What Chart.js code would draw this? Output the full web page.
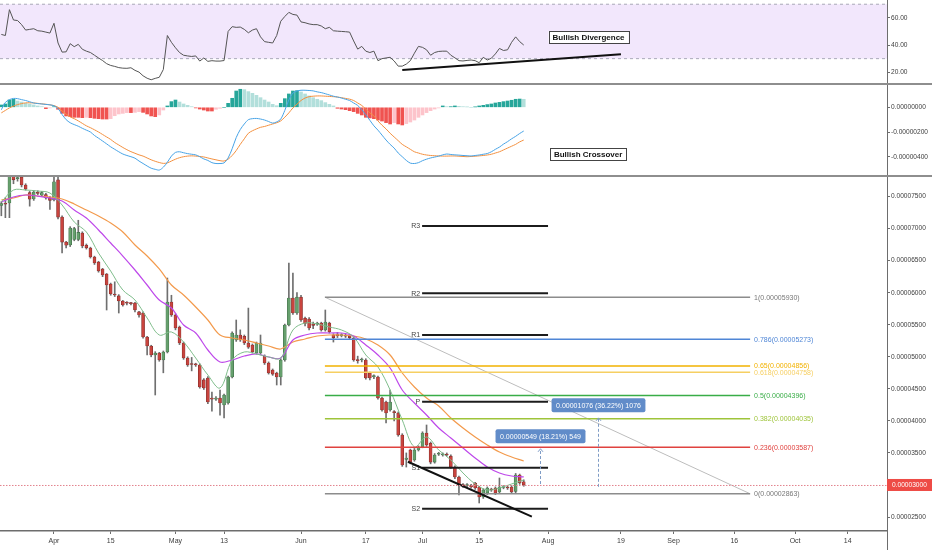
<!DOCTYPE html>
<html>
<head>
<meta charset="utf-8">
<script src="https://cdn.jsdelivr.net/npm/chart.js@4.4.1/dist/chart.umd.min.js"></script>
<style>
  body { margin: 0; background: #fff; width: 932px; height: 550px; overflow: hidden; position: relative; }
  .pane { position: absolute; left: 0; width: 932px; }
  .sep { position: absolute; left: 0; width: 932px; height: 2px; background: #8e8e8e; }
</style>
</head>
<body>
<div class="pane" style="top:0;height:83px"><canvas id="rsiChart"></canvas></div>
<div class="sep" style="top:83px"></div>
<div class="pane" style="top:85px;height:90px"><canvas id="macdChart"></canvas></div>
<div class="sep" style="top:175px"></div>
<div class="pane" style="top:177px;height:373px"><canvas id="priceChart"></canvas></div>
<script>
// Days are counted from 1 Apr; the first candle is 19 Mar
const firstDay = -13;
const viewStartDay = -13.33;
const viewEndDay = 205.7;

const xTickDays = [0, 14, 30, 42, 61, 77, 91, 105, 122, 140, 153, 168, 183, 196];
const xTickLabels = ['Apr', '15', 'May', '13', 'Jun', '17', 'Jul', '15', 'Aug', '19', 'Sep', '16', 'Oct', '14'];

// prices in satoshi (1e-8)
const opens = [7360, 7390, 7400, 7850, 7780, 7800, 7680, 7560, 7462, 7560, 7520, 7530, 7480, 7446, 7760, 7180, 6790, 6744, 6830, 6830,
  6930, 6740, 6697, 6557, 6479, 6370, 6290, 6136, 5970, 5950, 5870, 5840, 5835, 5839, 5700, 5683, 5309, 5168, 5028, 5059,
  4950, 5075, 5855, 5652, 5465, 5215, 4981, 4890, 4880, 4872, 4640, 4669, 4357, 4340, 4357, 4248, 4280, 4685, 5262, 5340,
  5320, 5215, 5184, 5059, 5059, 5010, 4903, 4794, 4747, 4685, 4950, 5496, 5917, 5683, 5930, 5600, 5590, 5510, 5510, 5527,
  5418, 5527, 5340, 5340, 5330, 5330, 5320, 5293, 4950, 4950, 4950, 4747, 4690, 4685, 4357, 4295, 4170, 4140, 4123, 3780,
  3400, 3546, 3390, 3546, 3593, 3811, 3650, 3357, 3480, 3470, 3480, 3450, 3281, 3125, 3000, 2990, 2990, 3031, 2969, 2813,
  2875, 2930, 2953, 2890, 2960, 2960, 2969, 2900, 3156, 3050];
const highs = [7420, 7480, 7950, 7950, 7850, 7850, 7700, 7580, 7590, 7590, 7580, 7550, 7500, 7800, 7820, 7200, 6800, 7030, 7020, 7130,
  6950, 6760, 6710, 6570, 6490, 6380, 6300, 6150, 6170, 5970, 5880, 5860, 5850, 5850, 5710, 5700, 5320, 5180, 5080, 5070,
  5090, 6229, 5960, 5670, 5480, 5230, 5000, 4990, 4900, 4890, 4660, 4690, 4450, 4380, 4480, 4420, 4700, 5390, 5574, 5420,
  5340, 5760, 5200, 5230, 5340, 5030, 4920, 4810, 4760, 4970, 5510, 6463, 6307, 6000, 5960, 5620, 5610, 5540, 5540, 5540,
  5730, 5540, 5360, 5380, 5360, 5350, 5340, 5310, 5010, 4980, 4970, 4760, 4720, 4700, 4370, 4310, 4482, 4160, 4140, 3800,
  3500, 3560, 3570, 3610, 3830, 3936, 3670, 3490, 3510, 3500, 3500, 3470, 3300, 3140, 3020, 3020, 3010, 3040, 2980, 2940,
  2970, 2950, 2970, 3109, 2990, 2980, 2990, 3180, 3170, 3080];
const lows = [7200, 7170, 7170, 7700, 7740, 7650, 7600, 7350, 7440, 7530, 7500, 7460, 7300, 7430, 7150, 6620, 6700, 6720, 6810, 6810,
  6700, 6680, 6540, 6440, 6320, 6250, 5730, 5960, 5940, 5683, 5790, 5810, 5810, 5700, 5620, 5290, 5028, 5000, 4404, 4930,
  4750, 5060, 5630, 5420, 5190, 4960, 4850, 4780, 4850, 4510, 4490, 4270, 4150, 4320, 4090, 4045, 4260, 4670, 5240, 5240,
  5190, 5130, 5060, 5040, 5040, 4880, 4730, 4710, 4560, 4560, 4930, 5480, 5660, 5660, 5550, 5480, 5420, 5440, 5490, 5400,
  5400, 5370, 5230, 5300, 5310, 5300, 5280, 4930, 4900, 4920, 4650, 4640, 4660, 4340, 4150, 3967, 4150, 4000, 3760, 3290,
  3280, 3330, 3370, 3530, 3580, 3600, 3330, 3340, 3460, 3450, 3450, 3260, 3100, 2844, 2960, 2960, 2950, 2930, 2719, 2790,
  2850, 2900, 2850, 2870, 2940, 2930, 2870, 2880, 3010, 2980];
const closes = [7390, 7380, 7850, 7760, 7790, 7680, 7618, 7460, 7571, 7550, 7560, 7480, 7440, 7730, 7180, 6790, 6740, 7009, 7000, 6940,
  6728, 6700, 6557, 6463, 6338, 6276, 6120, 5980, 5964, 5870, 5808, 5835, 5830, 5730, 5652, 5309, 5168, 5028, 5059, 4950,
  5075, 5855, 5652, 5449, 5215, 4981, 4872, 4880, 4875, 4529, 4513, 4295, 4340, 4357, 4279, 4404, 4685, 5371, 5340, 5262,
  5215, 5150, 5075, 5215, 5215, 4903, 4747, 4730, 4685, 4950, 5496, 5917, 5683, 5930, 5574, 5520, 5449, 5490, 5525, 5418,
  5543, 5390, 5300, 5330, 5345, 5320, 5300, 4950, 4940, 4960, 4669, 4669, 4700, 4357, 4170, 4123, 4295, 4130, 3780, 3312,
  3420, 3357, 3546, 3593, 3811, 3624, 3357, 3468, 3490, 3480, 3468, 3281, 3125, 3000, 2990, 3000, 2970, 2953, 2813, 2922,
  2953, 2922, 2875, 2969, 2970, 2953, 2890, 3156, 3031, 3000];

// moving averages, read at every 3rd candle
const maStep = 3;
const maFast = [7415, 7602, 7602, 7586, 7555, 7368, 7103, 6947, 6619, 6338, 6042, 5886, 5605, 5340, 5387, 5231, 4981, 4716, 4513, 4950,
  5075, 5044, 4997, 4981, 5418, 5527, 5512, 5465, 5418, 5309, 5028, 4841, 4482, 4014, 3593, 3749, 3546, 3390, 3187, 3016,
  2922, 2953, 3016, 3078];
const maMid = [7415, 7493, 7524, 7508, 7477, 7430, 7290, 7165, 6978, 6775, 6572, 6354, 6120, 5886, 5761, 5496, 5371, 5106, 4919, 4950,
  5012, 5044, 4997, 4981, 5262, 5340, 5371, 5371, 5371, 5324, 5184, 5028, 4825, 4482, 4279, 4092, 3889, 3733, 3577, 3421,
  3281, 3187, 3140, 3125];
const maSlow = [7446, 7477, 7524, 7508, 7493, 7462, 7384, 7290, 7196, 7087, 6947, 6744, 6572, 6370, 6120, 5964, 5777, 5574, 5340, 5293,
  5262, 5215, 5168, 5122, 5231, 5278, 5324, 5340, 5340, 5324, 5278, 5184, 5028, 4747, 4529, 4357, 4232, 4045, 3889, 3749,
  3624, 3515, 3437, 3374];

const rsiValues = [47.8, 47, 66, 58.4, 58, 55, 51, 51.5, 52, 50.5, 50.2, 49.5, 48.8, 56, 41.5, 34.8, 35, 41, 38.8, 40.5,
  36.9, 35.5, 34.5, 32.5, 30.5, 28.6, 26.3, 25, 24.3, 23.4, 23, 22.9, 23.3, 21.4, 20.1, 17.4, 15.6, 14.5, 15.5, 16.3,
  22, 47, 42, 38, 34.5, 32.5, 32, 31.6, 32, 28.2, 30.5, 28, 28.5, 28.2, 28.2, 28.6, 50, 53.5, 53, 53.2,
  51.5, 49, 51, 52, 46, 42.5, 42, 41.5, 47, 57.5, 61, 64, 62.5, 62, 57, 56.4, 55.5, 55, 55, 54,
  52, 53, 50.5, 50.2, 50, 49.8, 49.5, 43, 37, 39, 35.5, 34.5, 35.5, 28.5, 30, 30.5, 31, 28.3, 24.5, 24.5,
  26, 28.5, 34, 39, 38.3, 36.5, 32.5, 34.5, 35.3, 35.5, 35.5, 32.5, 30.6, 28.5, 28.3, 28.7, 29, 28.5, 27, 31,
  29, 30.3, 33.5, 37.5, 36, 36.5, 42, 46, 42.5, 40];

const macdLine = [-20, 40, 62, 72, 70, 62, 55, 45, 35, 30, 27, 23, 20, 12, -10, -58, -100, -125, -140, -153,
  -170, -185, -200, -228, -250, -273, -296, -320, -340, -360, -378, -390, -400, -412, -435, -455, -475, -493, -502, -508,
  -485, -445, -395, -365, -360, -368, -375, -380, -385, -400, -418, -430, -448, -455, -455, -450, -410, -335, -245, -180,
  -135, -100, -92, -90, -95, -103, -115, -128, -118, -95, -25, 60, 115, 132, 138, 138, 136, 133, 125, 119,
  110, 100, 90, 83, 75, 65, 55, 35, 15, -20, -60, -105, -150, -185, -225, -265, -300, -330, -370, -400,
  -430, -452, -455, -448, -432, -420, -410, -403, -395, -385, -378, -382, -385, -387, -390, -392, -394, -390, -386, -380,
  -374, -360, -340, -322, -298, -278, -255, -235, -212, -192];
const macdSignal = [-45, -25, -5, 10, 22, 30, 36, 37, 35, 32, 28, 25, 20, 14, 0, -30, -55, -78, -92, -110,
  -130, -150, -165, -182, -200, -220, -240, -260, -285, -305, -325, -343, -359, -372, -385, -395, -410, -425, -437, -447,
  -454, -450, -435, -420, -408, -400, -395, -393, -395, -398, -402, -410, -418, -425, -432, -435, -420, -390, -350, -300,
  -255, -210, -190, -175, -162, -155, -145, -135, -125, -110, -80, -45, -5, 25, 55, 75, 86, 90, 92, 92,
  90, 88, 86, 83, 78, 72, 66, 55, 35, 15, -15, -45, -70, -110, -145, -175, -210, -240, -270, -300,
  -320, -340, -360, -370, -380, -386, -390, -392, -394, -395, -395, -394, -394, -396, -398, -400, -398, -396, -393, -390,
  -386, -380, -370, -360, -345, -330, -315, -300, -280, -265];
const macdHist = [19, 27, 59, 65, 51, 43, 32, 27, 19, 11, 5, -11, -5, 5, -16, -49, -70, -76, -81, -81,
  -84, -81, -84, -89, -92, -95, -95, -92, -68, -54, -49, -43, -43, -41, -35, -41, -54, -70, -76, -62,
  -22, 11, 46, 59, 43, 27, 16, 5, -5, -14, -22, -30, -30, -16, -8, 0, 32, 73, 132, 146,
  143, 127, 113, 97, 78, 59, 43, 24, 13, 32, 70, 108, 132, 135, 124, 108, 92, 78, 65, 54,
  38, 24, 11, -8, -14, -19, -27, -35, -49, -62, -81, -86, -92, -103, -111, -124, -135, -124, -135, -143,
  -132, -119, -103, -81, -62, -43, -27, -14, -5, 11, 5, 5, 11, 8, 5, 3, 0, 3, 11, 16,
  22, 27, 35, 40, 46, 51, 57, 65, 67, 65];

const priceTicks = [2500, 3000, 3500, 4000, 4500, 5000, 5500, 6000, 6500, 7000, 7500];
const rsiTicks = [20, 40, 60];
const macdTicks = [0, -200, -400];

// fibonacci retracement
const fibRatios = ['1', '0.786', '0.65', '0.618', '0.5', '0.382', '0.236', '0'];
const fibPrices = [5930, 5273, 4856, 4758, 4396, 4035, 3587, 2863];
const fibColors = ['#8c8c8c', '#4f86d6', '#f2b200', '#f6cf62', '#39ad47', '#9ec43a', '#e0423f', '#8c8c8c'];
const fibStartDay = 66.9, fibEndDay = 171.9;

// pivot points
const pivotNames = ['R3', 'R2', 'R1', 'P', 'S1', 'S2'];
const pivotPrices = [7040, 5990, 5340, 4300, 3270, 2630];
const pivotStartDay = 90.9, pivotEndDay = 122;

// hand-drawn lines: [day, value, day, value]
const supportLine = [87.4, 3363, 118, 2505];
const rsiDivergence = [86, 21.6, 140, 33.2];

// price range measurements
const measureDays = [120, 134.3];
const measureFrom = [3015, 2971];
const measureTo = [3564, 4047];

const days = opens.map((_, i) => firstDay + i);
const FONT = '"Liberation Sans", Arial, sans-serif';
Chart.defaults.font.family = FONT;
Chart.defaults.font.size = 7;
Chart.defaults.animation = false;

function rightAxis(min, max, ticks, fmt) {
  return {
    position: 'right', min: min, max: max,
    afterBuildTicks: s => { s.ticks = ticks.map(v => ({ value: v })); },
    afterFit: s => { s.width = 45; s.paddingTop = 0; s.paddingBottom = 0; },
    border: { display: true, color: '#6d6d6d' },
    grid: { drawOnChartArea: false, offset: false, tickLength: 3, color: '#6d6d6d' },
    ticks: { callback: fmt, padding: 1, color: '#3c3c3c', autoSkip: false, font: { size: 6.6 } }
  };
}
function hiddenX() {
  return { type: 'linear', min: viewStartDay, max: viewEndDay, display: false, offset: false };
}
const baseOptions = {
  responsive: true, maintainAspectRatio: false,
  layout: { padding: 0 },
  plugins: { legend: { display: false }, tooltip: { enabled: false } },
  events: []
};
const sats = v => (v / 1e8).toFixed(8);

function segment(ctx, x1, y1, x2, y2, color, width, dash) {
  ctx.beginPath();
  ctx.setLineDash(dash || []);
  ctx.strokeStyle = color;
  ctx.lineWidth = width;
  ctx.moveTo(x1, y1);
  ctx.lineTo(x2, y2);
  ctx.stroke();
  ctx.setLineDash([]);
}
function noteBox(ctx, text, cx, cy) {
  ctx.font = 'bold 8px ' + FONT;
  const w = ctx.measureText(text).width + 8, h = 12;
  ctx.fillStyle = '#fff';
  ctx.fillRect(cx - w / 2, cy - h / 2, w, h);
  ctx.strokeStyle = '#444';
  ctx.lineWidth = 1;
  ctx.strokeRect(Math.round(cx - w / 2) + 0.5, Math.round(cy - h / 2) + 0.5, Math.round(w), h);
  ctx.fillStyle = '#111';
  ctx.textAlign = 'center';
  ctx.textBaseline = 'middle';
  ctx.fillText(text, cx, cy + 0.5);
}

// ---- RSI pane ----
const rsiPlugin = {
  id: 'rsiBand',
  beforeDatasetsDraw(chart) {
    const { ctx, chartArea: a, scales: { y } } = chart;
    ctx.save();
    ctx.fillStyle = '#f2e7fc';
    ctx.fillRect(a.left, y.getPixelForValue(70), a.right - a.left, y.getPixelForValue(30) - y.getPixelForValue(70));
    [70, 30].forEach(v => segment(ctx, a.left, y.getPixelForValue(v), a.right, y.getPixelForValue(v), '#a9a9b8', 1, [3, 3]));
    ctx.restore();
  },
  afterDatasetsDraw(chart) {
    const { ctx, scales: { x, y } } = chart;
    ctx.save();
    segment(ctx, x.getPixelForValue(rsiDivergence[0]), y.getPixelForValue(rsiDivergence[1]),
      x.getPixelForValue(rsiDivergence[2]), y.getPixelForValue(rsiDivergence[3]), '#111', 2);
    noteBox(ctx, 'Bullish Divergence', x.getPixelForValue(132), y.getPixelForValue(45.9));
    ctx.restore();
  }
};
new Chart(document.getElementById('rsiChart'), {
  type: 'line',
  data: {
    datasets: [{
      data: rsiValues.map((v, i) => ({ x: days[i], y: v })),
      borderColor: '#555', borderWidth: 1, pointRadius: 0, tension: 0
    }]
  },
  options: Object.assign({}, baseOptions, {
    scales: { x: hiddenX(), y: rightAxis(12.1, 73.1, rsiTicks, v => v.toFixed(2)) }
  }),
  plugins: [rsiPlugin]
});

// ---- MACD pane ----
const macdPlugin = {
  id: 'macdNote',
  afterDatasetsDraw(chart) {
    const { ctx, scales: { x, y } } = chart;
    ctx.save();
    noteBox(ctx, 'Bullish Crossover', x.getPixelForValue(131.9), y.getPixelForValue(-378));
    ctx.restore();
  }
};
new Chart(document.getElementById('macdChart'), {
  type: 'bar',
  data: {
    datasets: [
      { type: 'line', data: macdLine.map((v, i) => ({ x: days[i], y: v })), borderColor: '#47a3e6', borderWidth: 1, pointRadius: 0, tension: 0.3, order: 0 },
      { type: 'line', data: macdSignal.map((v, i) => ({ x: days[i], y: v })), borderColor: '#f3903f', borderWidth: 1, pointRadius: 0, tension: 0.3, order: 0 },
      {
        data: macdHist.map((v, i) => ({ x: days[i], y: v })),
        backgroundColor: c => {
          const i = c.dataIndex, v = macdHist[i], prev = i > 0 ? macdHist[i - 1] : v;
          if (v >= 0) return v >= prev ? '#26a69a' : '#b2dfdb';
          return v <= prev ? '#f05350' : '#fdc4cb';
        },
        barThickness: 3, grouped: false, borderSkipped: false, order: 1
      }
    ]
  },
  options: Object.assign({}, baseOptions, {
    scales: { x: hiddenX(), y: rightAxis(-548, 180.6, macdTicks, sats) }
  }),
  plugins: [macdPlugin]
});

// ---- price pane ----
const pricePlugin = {
  id: 'priceDrawings',
  afterDatasetsDraw(chart) {
    const { ctx, chartArea: a, scales: { x, y } } = chart;
    const X = v => x.getPixelForValue(v), Y = v => y.getPixelForValue(v);
    ctx.save();
    ctx.beginPath();
    ctx.rect(a.left, a.top, a.right - a.left, a.bottom - a.top);
    ctx.clip();

    // fib trend line and levels
    segment(ctx, X(fibStartDay), Y(fibPrices[0]), X(fibEndDay), Y(fibPrices[fibPrices.length - 1]), '#bdbdbd', 1);
    fibPrices.forEach((p, k) => segment(ctx, X(fibStartDay), Y(p), X(fibEndDay), Y(p), fibColors[k], 1.5));
    ctx.font = '7px ' + FONT;
    ctx.textAlign = 'left';
    ctx.textBaseline = 'middle';
    for (let k = fibPrices.length - 1; k >= 0; k--) {
      ctx.fillStyle = fibColors[k] === '#8c8c8c' ? '#777' : fibColors[k];
      ctx.fillText(fibRatios[k] + '(' + sats(fibPrices[k]) + ')', X(fibEndDay) + 4, Y(fibPrices[k]) + 0.5);
    }

    // pivots
    pivotPrices.forEach((p, k) => {
      segment(ctx, X(pivotStartDay), Y(p), X(pivotEndDay), Y(p), '#1c1c1c', 2);
      ctx.fillStyle = '#444';
      ctx.textAlign = 'right';
      ctx.fillText(pivotNames[k], X(pivotStartDay) - 2, Y(p) + 0.5);
    });

    // falling support
    segment(ctx, X(supportLine[0]), Y(supportLine[1]), X(supportLine[2]), Y(supportLine[3]), '#111', 2);

    // last price
    const last = closes[closes.length - 1];
    segment(ctx, a.left, Y(last) + 0.5, a.right, Y(last) + 0.5, '#e3828d', 1, [1.5, 1.5]);

    // measurements
    measureDays.forEach((d, k) => {
      const px = Math.round(X(d)) + 0.5, y0 = Y(measureFrom[k]), y1 = Y(measureTo[k]);
      segment(ctx, px, y0, px, y1, '#7f9cc6', 1, [3, 2]);
      ctx.beginPath();
      ctx.strokeStyle = '#7f9cc6';
      ctx.moveTo(px - 2.5, y1 + 3);
      ctx.lineTo(px, y1);
      ctx.lineTo(px + 2.5, y1 + 3);
      ctx.stroke();
      const diff = measureTo[k] - measureFrom[k];
      const text = sats(diff) + ' (' + (diff / measureFrom[k] * 100).toFixed(2) + '%) ' + diff;
      ctx.font = '7px ' + FONT;
      const w = ctx.measureText(text).width + 9, h = 14, cy = y1 - 12.5;
      ctx.fillStyle = 'rgba(84,130,196,0.92)';
      ctx.beginPath();
      ctx.roundRect(px - w / 2, cy - h / 2, w, h, 2);
      ctx.fill();
      ctx.fillStyle = '#fff';
      ctx.textAlign = 'center';
      ctx.fillText(text, px, cy + 0.5);
    });
    ctx.restore();
  },
  afterDraw(chart) {
    const { ctx, chartArea: a, scales: { y } } = chart;
    ctx.save();
    segment(ctx, a.right + 0.5, a.bottom, a.right + 0.5, chart.height, '#6d6d6d', 1);
    const py = y.getPixelForValue(closes[closes.length - 1]);
    ctx.fillStyle = '#ee4b46';
    ctx.fillRect(a.right, py - 6, chart.width - a.right, 12);
    ctx.fillStyle = '#fff';
    ctx.font = '6.6px ' + FONT;
    ctx.textAlign = 'left';
    ctx.textBaseline = 'middle';
    ctx.fillText(sats(closes[closes.length - 1]), a.right + 5, py + 0.5);
    ctx.restore();
  }
};

const rising = i => closes[i] >= opens[i];
const maPoints = arr => arr.map((v, k) => ({ x: days[k * maStep], y: v }));

new Chart(document.getElementById('priceChart'), {
  type: 'bar',
  data: {
    datasets: [
      { type: 'line', data: maPoints(maFast), borderColor: '#7fbd8b', borderWidth: 1, pointRadius: 0, tension: 0.35, order: 0 },
      { type: 'line', data: maPoints(maMid), borderColor: '#be48ea', borderWidth: 1.2, pointRadius: 0, tension: 0.35, order: 0 },
      { type: 'line', data: maPoints(maSlow), borderColor: '#f39a4c', borderWidth: 1.2, pointRadius: 0, tension: 0.35, order: 0 },
      {
        data: days.map((d, i) => ({ x: d, y: [opens[i], closes[i]] })),
        backgroundColor: c => rising(c.dataIndex) ? '#66a06d' : '#c9443e',
        borderColor: c => rising(c.dataIndex) ? '#3f6e47' : '#7e2b28',
        borderWidth: 0.6, borderSkipped: false, minBarLength: 1,
        barThickness: 3, grouped: false, order: 1
      },
      {
        data: days.map((d, i) => ({ x: d, y: [lows[i], highs[i]] })),
        backgroundColor: '#6f6f6f', barThickness: 1, grouped: false, order: 2
      }
    ]
  },
  options: Object.assign({}, baseOptions, {
    scales: {
      x: {
        type: 'linear', min: viewStartDay, max: viewEndDay, offset: false,
        afterBuildTicks: s => { s.ticks = xTickDays.map(v => ({ value: v })); },
        afterFit: s => { s.height = 19; s.paddingLeft = 0; s.paddingRight = 0; },
        border: { display: true, color: '#6d6d6d', width: 1.5 },
        grid: { drawOnChartArea: false, offset: false, tickLength: 3, color: '#6d6d6d' },
        ticks: { callback: (v, i) => xTickLabels[i], maxRotation: 0, autoSkip: false, padding: 3, color: '#3c3c3c' }
      },
      y: rightAxis(2282, 7805, priceTicks, sats)
    }
  }),
  plugins: [pricePlugin]
});
</script>
</body>
</html>
